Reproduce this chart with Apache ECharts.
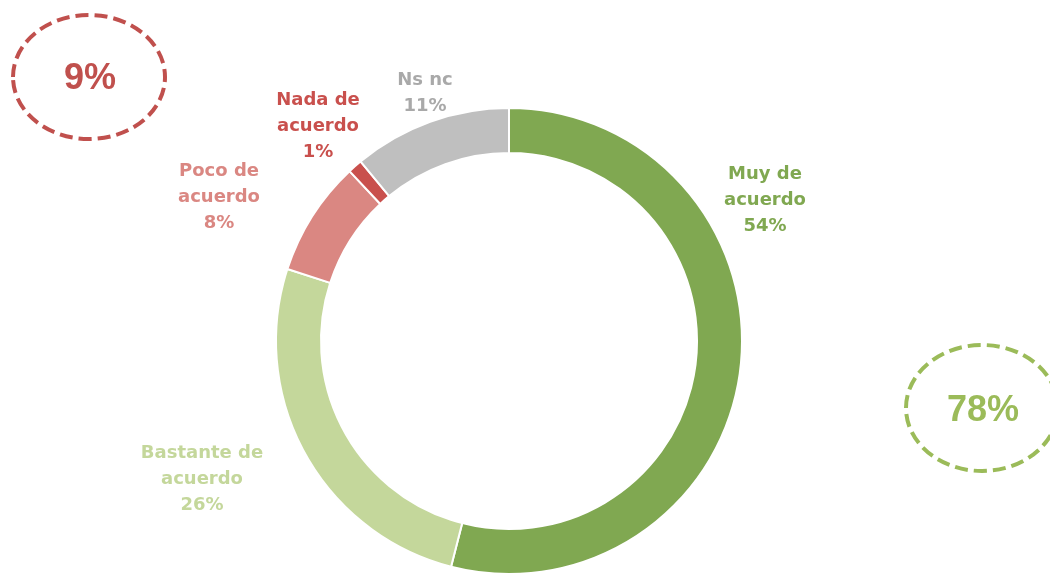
<!DOCTYPE html>
<html>
<head>
<meta charset="utf-8">
<style>
  html, body { margin: 0; padding: 0; background: #ffffff; }
  #chart { width: 1050px; height: 573px; }
</style>
<script src="https://cdn.jsdelivr.net/npm/echarts@6/dist/echarts.min.js"></script>
</head>
<body>
<div id="chart"></div>
<script>
// Survey answers, clockwise from the top of the ring
const categories = ['Muy de\nacuerdo', 'Bastante de\nacuerdo', 'Poco de\nacuerdo', 'Nada de\nacuerdo', 'Ns nc'];
const values = [54, 26, 8, 1, 11];
const sliceColors = ['#80A851', '#C4D79B', '#DA8782', '#C9504D', '#BFBFBF'];
const labelColors = ['#80A851', '#C4D79B', '#DA8782', '#C9504D', '#A9A9A9'];
// Grouped totals shown in the dashed ellipses
const disagreeTotal = '9%';
const agreeTotal = '78%';

// Label anchor points (pixels) for each slice
const labelAnchors = [[765, 200], [202, 479], [219, 197], [318, 126], [425, 93]];

const chart = echarts.init(document.getElementById('chart'), null, { renderer: 'canvas' });

chart.setOption({
  backgroundColor: '#ffffff',
  animation: false,
  series: [{
    type: 'pie',
    center: [509, 341],
    radius: [188, 233],
    startAngle: 90,
    clockwise: true,
    avoidLabelOverlap: false,
    itemStyle: { borderColor: '#ffffff', borderWidth: 2 },
    label: {
      show: true,
      position: 'outside',
      formatter: p => p.name + '\n' + p.value + '%',
      fontFamily: '"DejaVu Sans", sans-serif',
      fontWeight: 'bold',
      fontSize: 18,
      lineHeight: 26,
      align: 'center',
      verticalAlign: 'middle'
    },
    labelLine: { show: false },
    labelLayout: params => {
      const a = labelAnchors[params.dataIndex];
      return { x: a[0], y: a[1], align: 'center', verticalAlign: 'middle' };
    },
    emphasis: { disabled: true },
    data: categories.map((c, i) => ({
      name: c,
      value: values[i],
      itemStyle: { color: sliceColors[i] },
      label: { color: labelColors[i] }
    }))
  }],
  graphic: [
    {
      type: 'ellipse',
      shape: { cx: 89, cy: 77, rx: 76, ry: 62 },
      style: { fill: 'none', stroke: '#C0504D', lineWidth: 4, lineDash: [13, 6] }
    },
    {
      type: 'text',
      x: 90, y: 79,
      style: {
        text: disagreeTotal, fill: '#C0504D',
        font: 'bold 36px "Liberation Sans", Arial, sans-serif',
        align: 'center', verticalAlign: 'middle'
      }
    },
    {
      type: 'ellipse',
      shape: { cx: 982, cy: 408, rx: 76, ry: 63 },
      style: { fill: 'none', stroke: '#9BBB59', lineWidth: 4, lineDash: [13, 6] }
    },
    {
      type: 'text',
      x: 983, y: 411,
      style: {
        text: agreeTotal, fill: '#9BBB59',
        font: 'bold 36px "Liberation Sans", Arial, sans-serif',
        align: 'center', verticalAlign: 'middle'
      }
    }
  ]
});
</script>
</body>
</html>
